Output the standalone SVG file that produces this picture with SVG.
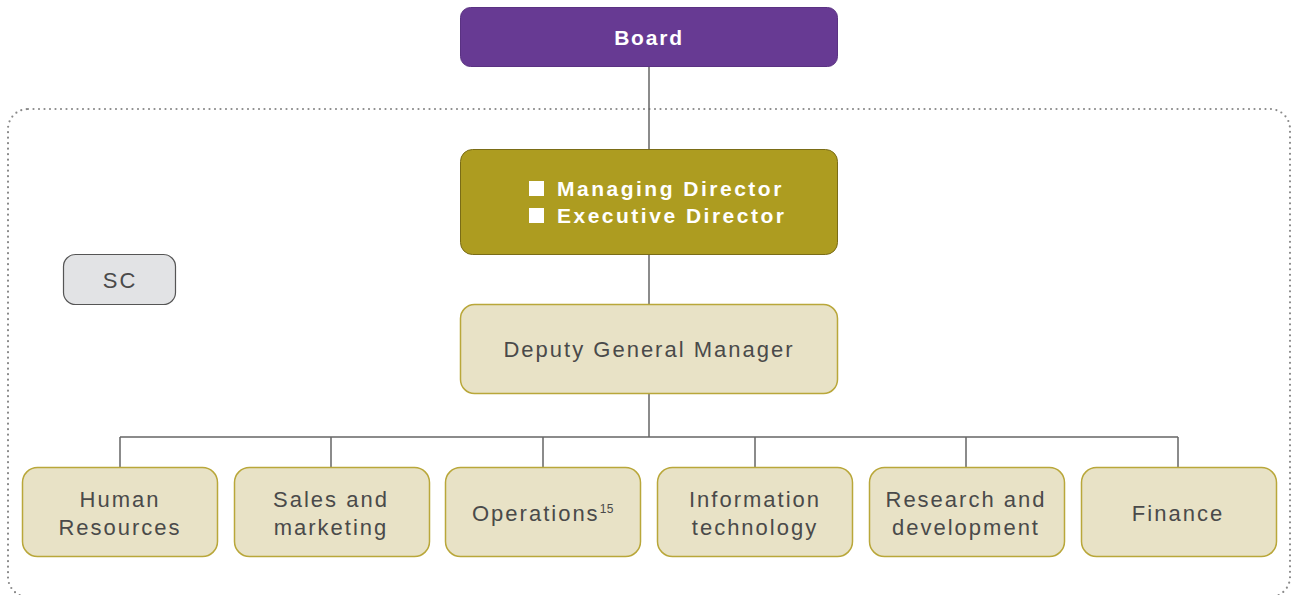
<svg xmlns="http://www.w3.org/2000/svg" width="1292" height="595" viewBox="0 0 1292 595">
<style>
text{font-family:"Liberation Sans",Arial,sans-serif;}
.lbl{font-size:22px;fill:#4a4a4a;text-anchor:middle;letter-spacing:2px;}
.box{fill:#e8e2c6;stroke:#b9a73a;stroke-width:1.5;}
.wht{font-size:21px;font-weight:bold;fill:#ffffff;letter-spacing:2.5px;}
.con{stroke:#666666;stroke-width:1.5;fill:none;}
</style>
<rect x="8" y="109" width="1282" height="488" rx="20" fill="none" stroke="#8a8a8a" stroke-width="2.2" stroke-dasharray="0 5.5" stroke-linecap="round"/>
<g id="connectors">
<path class="con" d="M649 66V149M649 254V304M649 393V437M120 437H1178M120 437V467M331 437V467M543 437V467M755 437V467M966 437V467M1178 437V467"/>
</g>
<g id="board">
<rect x="460.5" y="7.5" width="377" height="59" rx="10" fill="#673a93" stroke="#5a3282" stroke-width="1"/>
<text class="wht" x="649" y="44.5" text-anchor="middle" style="letter-spacing:1.8px">Board</text>
</g>
<g id="directors">
<rect x="460.5" y="149.5" width="377" height="105" rx="12" fill="#ad9c20" stroke="#7a6c16" stroke-width="1"/>
<rect x="529" y="181" width="15" height="15" fill="#ffffff"/>
<rect x="529" y="208" width="15" height="15" fill="#ffffff"/>
<text class="wht" x="557" y="196">Managing Director</text>
<text class="wht" x="557" y="223">Executive Director</text>
</g>
<g id="sc">
<rect x="63.5" y="254.5" width="112" height="50" rx="12" fill="#e2e3e5" stroke="#555555" stroke-width="1.2"/>
<text class="lbl" x="120" y="287.5">SC</text>
</g>
<g id="dgm">
<rect class="box" x="460.5" y="304.5" width="377" height="89" rx="14"/>
<text class="lbl" x="649" y="357">Deputy General Manager</text>
</g>
<g id="hr">
<rect class="box" x="22.5" y="467.5" width="195" height="89" rx="15"/>
<text class="lbl" x="120" y="507">Human</text>
<text class="lbl" x="120" y="535">Resources</text>
</g>
<g id="sales">
<rect class="box" x="234.5" y="467.5" width="195" height="89" rx="15"/>
<text class="lbl" x="331" y="507">Sales and</text>
<text class="lbl" x="331" y="535">marketing</text>
</g>
<g id="ops">
<rect class="box" x="445.5" y="467.5" width="195" height="89" rx="15"/>
<text class="lbl" x="543" y="521">Operations<tspan font-size="12" dy="-8" letter-spacing="0.5">15</tspan></text>
</g>
<g id="it">
<rect class="box" x="657.5" y="467.5" width="195" height="89" rx="15"/>
<text class="lbl" x="755" y="507">Information</text>
<text class="lbl" x="755" y="535">technology</text>
</g>
<g id="rd">
<rect class="box" x="869.5" y="467.5" width="195" height="89" rx="15"/>
<text class="lbl" x="966" y="507">Research and</text>
<text class="lbl" x="966" y="535">development</text>
</g>
<g id="fin">
<rect class="box" x="1081.5" y="467.5" width="195" height="89" rx="15"/>
<text class="lbl" x="1178" y="521">Finance</text>
</g>
</svg>
